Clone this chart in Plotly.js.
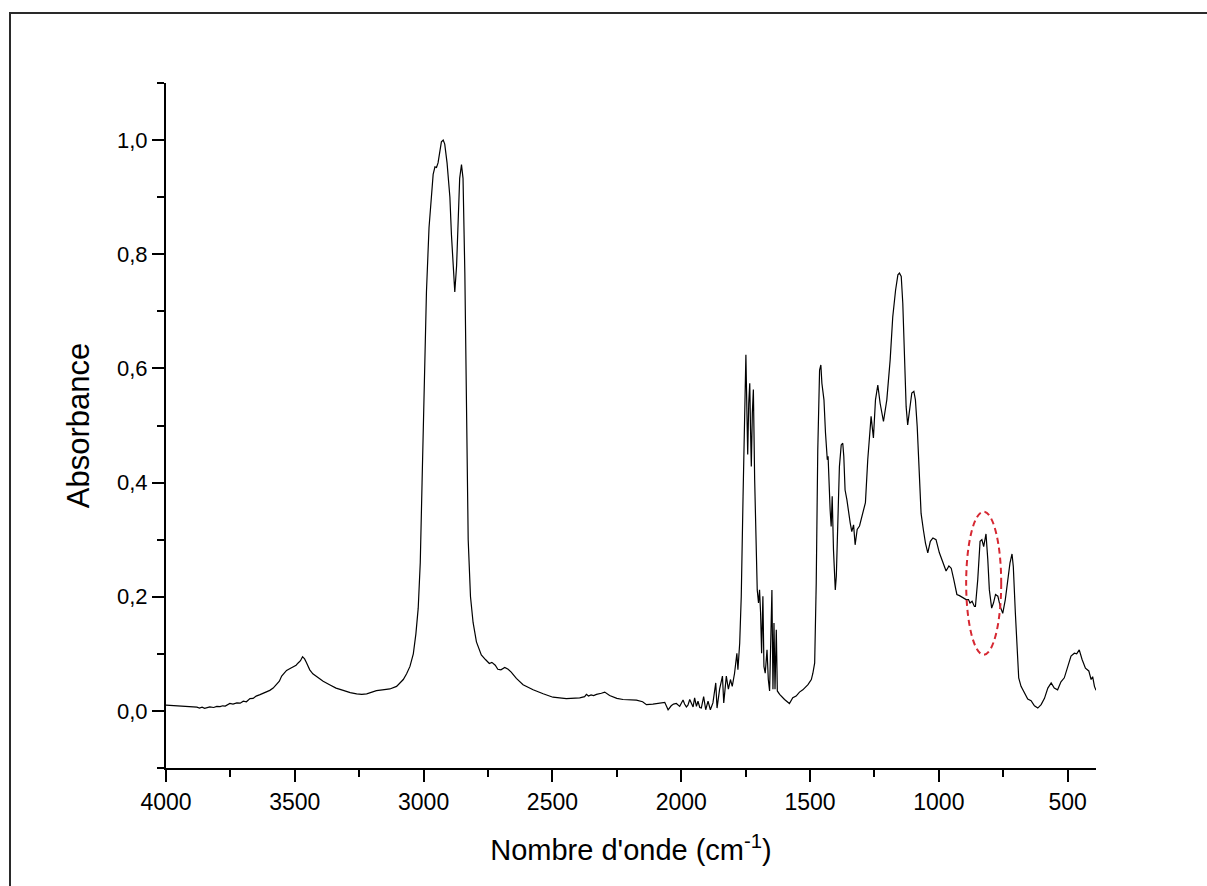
<!DOCTYPE html>
<html>
<head>
<meta charset="utf-8">
<script src="https://cdn.plot.ly/plotly-3.0.1.min.js"></script>
<style>
html,body{margin:0;padding:0;background:#fff;overflow:hidden;}
#chart{position:absolute;left:0;top:0;width:1207px;height:886px;}
#frame{position:absolute;left:9px;top:12px;width:1400px;height:1000px;border-left:2px solid #2a2a2a;border-top:2px solid #2a2a2a;pointer-events:none;}
</style>
</head>
<body>
<div id="chart"></div>
<div id="frame"></div>
<script>
// Wavenumber (cm-1) and absorbance
const wavenumber = [
 4000,3960,3930,3907,3890,3880,3870,3860,3850,3840,3830,3815,3803,3790,3780,3770,3760,3752,3740,3725,3712,3700,3688,3674,3662,3650,3635,3615,3597,3584,3571,3560,3551,3540,3532,3520,3506,3495,3487,3478,3470,3462,3455,3442,3430,3415,3390,3365,3340,3312,3285,3260,3240,3221,3200,3183,3160,3131,3105,3092,3079,
 3066,3053,3040,3030,3021,3013,3006,2999,2989,2979,2969,2963,2956,2950,2944,2937,2931,2924,2918,2909,2898,2892,2885,2879,2872,2866,2860,2853,2847,2840,2834,2827,2818,2808,2795,2776,2760,2745,2735,2722,2712,2700,2685,2672,2660,2640,2614,2575,2536,2498,2446,2394,2375,2368,2360,2350,2340,2329,2310,2297,2278,2250,2226,2174,2150,2135,2110,2084,2064,
 2051,2039,2030,2019,2006,1993,1987,1980,1974,1967,1961,1954,1948,1941,1935,1928,1922,1913,1905,1896,1887,1877,1866,1861,1851,1840,1835,1825,1817,1809,1802,1793,1784,1780,1773,1767,1760,1754,1749,1745,1742,1738,1734,1731,1728,1724,1720,1715,1709,1705,1700,1696,1692,1688,1683,1679,1674,1667,1662,1657,1653,1648,1644,1640,1636,1631,1627,1618,1599,1580,1567,1554,1541,1528,1508,1495,1489,1482,1476,1470,1463,1458,
 1454,1446,1440,1433,1430,1427,1422,1418,1414,1409,1402,1398,1392,1386,1379,1373,1369,1364,1357,1351,1344,1338,1331,1325,1317,1308,1295,1285,1276,1263,1254,1246,1237,1228,1215,1202,1189,1179,1168,1159,1153,1146,1140,1133,1127,1121,1114,1105,1097,1091,1084,1078,1069,1060,1052,1043,1033,1023,1011,998,985,972,961,952,942,930,920,907,894,885,879,871,862,
 858,849,840,833,826,817,810,804,795,788,780,771,762,752,742,733,724,716,711,703,696,690,681,668,655,642,629,616,603,590,577,564,552,539,526,513,500,487,474,465,455,444,431,418,409,403,396,390
];
const absorbance = [
 0.010,0.009,0.008,0.007,0.006,0.0065,0.005,0.0065,0.0045,0.006,0.007,0.006,0.008,0.0075,0.009,0.0085,0.011,0.013,0.012,0.014,0.0135,0.017,0.016,0.0215,0.022,0.026,0.0285,0.032,0.036,0.040,0.046,0.052,0.061,0.066,0.071,0.074,0.077,0.080,0.084,0.088,0.095,0.091,0.085,0.072,0.065,0.0595,0.052,0.046,0.040,0.036,0.032,0.0297,0.029,0.030,0.033,0.0355,0.037,0.0385,0.043,0.050,0.055,
 0.065,0.078,0.100,0.135,0.180,0.260,0.400,0.550,0.734,0.847,0.913,0.940,0.953,0.952,0.960,0.980,0.997,1.000,0.993,0.960,0.900,0.834,0.767,0.734,0.780,0.867,0.933,0.957,0.933,0.767,0.500,0.300,0.200,0.155,0.121,0.098,0.090,0.083,0.085,0.080,0.073,0.072,0.076,0.073,0.068,0.057,0.046,0.037,0.030,0.024,0.0215,0.023,0.025,0.029,0.026,0.028,0.027,0.029,0.031,0.033,0.027,0.022,0.020,0.019,0.016,0.011,0.012,0.014,0.015,
 0.002,0.009,0.012,0.013,0.008,0.019,0.012,0.007,0.010,0.020,0.014,0.007,0.023,0.008,0.017,0.006,0.005,0.025,0.002,0.017,0.002,0.014,0.049,0.005,0.038,0.061,0.014,0.061,0.038,0.055,0.043,0.066,0.101,0.072,0.119,0.201,0.376,0.522,0.624,0.522,0.449,0.539,0.574,0.493,0.428,0.522,0.563,0.405,0.259,0.212,0.189,0.212,0.172,0.101,0.201,0.078,0.066,0.107,0.055,0.035,0.113,0.212,0.038,0.154,0.038,0.142,0.035,0.029,0.020,0.013,0.023,0.026,0.033,0.037,0.046,0.055,0.066,0.084,0.224,0.457,0.597,0.606,
 0.574,0.545,0.487,0.440,0.446,0.399,0.352,0.323,0.376,0.282,0.212,0.236,0.341,0.428,0.466,0.469,0.446,0.387,0.370,0.347,0.329,0.314,0.326,0.291,0.318,0.324,0.350,0.365,0.440,0.516,0.478,0.545,0.571,0.539,0.507,0.545,0.615,0.690,0.737,0.764,0.767,0.761,0.714,0.615,0.533,0.501,0.527,0.557,0.560,0.545,0.498,0.428,0.346,0.317,0.294,0.277,0.297,0.303,0.300,0.277,0.259,0.245,0.254,0.250,0.230,0.204,0.202,0.198,0.195,0.195,0.189,0.192,0.183,
 0.183,0.230,0.297,0.300,0.288,0.310,0.265,0.212,0.180,0.189,0.204,0.201,0.183,0.171,0.195,0.230,0.259,0.275,0.253,0.171,0.101,0.058,0.043,0.032,0.021,0.018,0.009,0.005,0.011,0.022,0.040,0.049,0.040,0.037,0.051,0.058,0.078,0.096,0.101,0.100,0.107,0.090,0.075,0.070,0.055,0.060,0.043,0.036
];
// Highlighted region (dashed ellipse)
const highlightX = [894, 758];
const highlightY = [0.0985, 0.349];
const xTickVals = [4000,3500,3000,2500,2000,1500,1000,500];
const yTickVals = [0,0.2,0.4,0.6,0.8,1.0];

const fontFam = 'Arial, "Liberation Sans", Helvetica, sans-serif';

const trace = {
  x: wavenumber, y: absorbance, type: 'scatter', mode: 'lines',
  line: {color: '#000', width: 1.2}, hoverinfo: 'skip'
};

const layout = {
  width: 1207, height: 886,
  margin: {l: 166, r: 111, t: 83, b: 118},
  paper_bgcolor: '#fff', plot_bgcolor: '#fff',
  separators: ', ',
  showlegend: false,
  font: {family: fontFam, color: '#000'},
  xaxis: {
    range: [4000, 390], showgrid: false, zeroline: false,
    showline: true, linecolor: '#000', linewidth: 2,
    ticks: 'outside', ticklen: 12, tickwidth: 2, tickcolor: '#000',
    tickvals: xTickVals, tickfont: {size: 23, family: fontFam, color: '#000'},
    minor: {dtick: 250, tick0: 0, ticks: 'outside', ticklen: 7, tickwidth: 2, tickcolor: '#000'},
    title: {text: "Nombre d'onde (cm<sup>-1</sup>)", font: {size: 29, family: fontFam, color: '#000'}, standoff: 26}
  },
  yaxis: {
    range: [-0.1, 1.1], showgrid: false, zeroline: false,
    showline: true, linecolor: '#000', linewidth: 2,
    ticks: 'outside', ticklen: 12, tickwidth: 2, tickcolor: '#000',
    tickvals: yTickVals, tickformat: '.1f', tickfont: {size: 22, family: fontFam, color: '#000'},
    minor: {dtick: 0.1, tick0: 0, ticks: 'outside', ticklen: 7, tickwidth: 2, tickcolor: '#000'},
    title: {text: 'Absorbance', font: {size: 31, family: fontFam, color: '#000'}, standoff: 18}
  },
  shapes: [{
    type: 'circle', xref: 'x', yref: 'y',
    x0: highlightX[0], x1: highlightX[1], y0: highlightY[0], y1: highlightY[1],
    line: {color: 'rgb(214,40,50)', width: 2, dash: '6px,4px'}
  }]
};

Plotly.newPlot('chart', [trace], layout, {staticPlot: true, displayModeBar: false});
</script>
</body>
</html>
